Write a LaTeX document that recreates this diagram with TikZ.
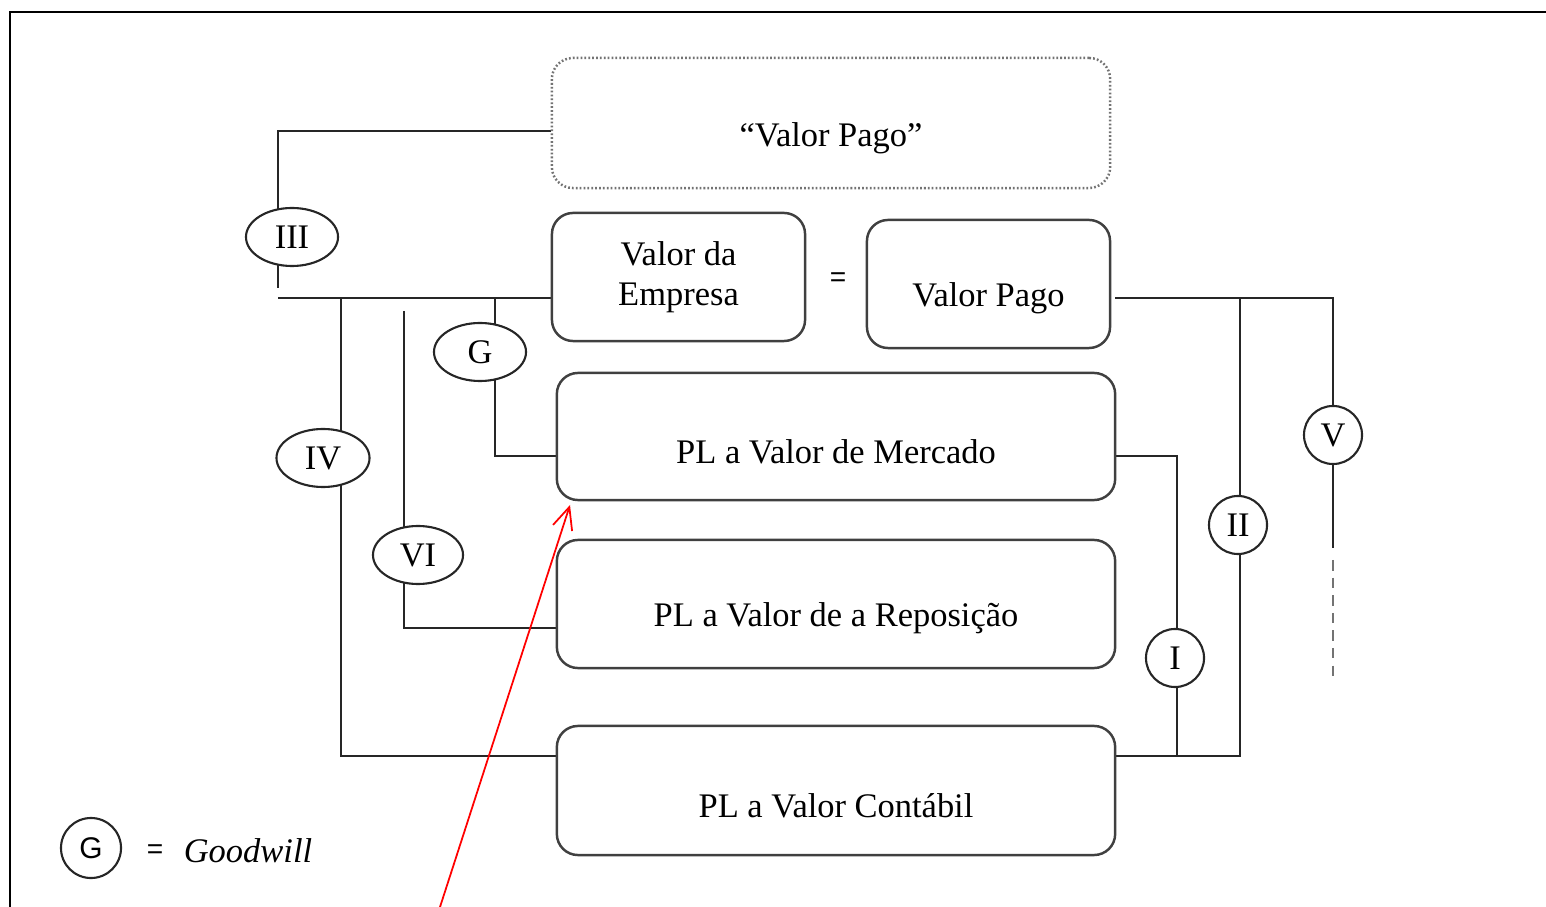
\documentclass[tikz,border=0pt]{standalone}
\usepackage{fontspec}
\setmainfont{Liberation Serif}
\newfontfamily\legendfont{Liberation Sans}
\usetikzlibrary{shapes.geometric, arrows.meta, positioning, calc, backgrounds}

\begin{document}
\begin{tikzpicture}[
  x=0.01cm, y=-0.01cm,
  font=\fontsize{9.8}{11.5}\selectfont,
  box/.style={
    rectangle,
    draw=black!75,
    fill=white,
    line width=0.7pt,
    rounded corners=6pt,
    minimum width=5.58cm,
    minimum height=1.28cm,
    inner sep=0pt
  },
  dotbox/.style={
    box,
    draw=black!55,
    dash pattern=on 0.5pt off 0.6pt,
    line width=0.7pt,
    minimum height=1.30cm
  },
  oval/.style={
    ellipse,
    draw=black!85,
    fill=white,
    line width=0.6pt,
    minimum width=0.92cm,
    minimum height=0.58cm,
    inner sep=0pt
  },
  ring/.style={
    circle,
    draw=black!85,
    fill=white,
    line width=0.6pt,
    minimum size=0.58cm,
    inner sep=0pt
  },
  link/.style={
    draw=black!85,
    line width=0.65pt
  },
  note/.style={
    -{Straight Barb[length=2.2mm, width=2mm]},
    draw=red,
    line width=0.5pt
  }
]
\useasboundingbox (0,0) rectangle (1546,907);

% Frame
\draw[line width=0.8pt] (10,907) -- (10,12) -- (1546,12);

% Boxes
\node[dotbox] (pago) at (831,123) {};
\node[box, minimum width=2.53cm, align=center] (emp) at (678.5,277) {Valor da\\Empresa};
\node[box, minimum width=2.43cm] (vpago) at (988.5,284) {};
\node[box, minimum height=1.27cm] (merc) at (836,436.5) {};
\node[box] (repo) at (836,604) {};
\node[box, minimum height=1.29cm] (cont) at (836,790.5) {};

% Box texts
\node (pago-t)  at ($(pago)+(0,15)$)  {“Valor Pago”};
\node (vpago-t) at ($(vpago)+(0,14)$) {Valor Pago};
\node (merc-t)  at ($(merc)+(0,15)$)  {PL a Valor de Mercado};
\node (repo-t)  at ($(repo)+(0,14)$)  {PL a Valor de a Reposição};
\node (cont-t)  at ($(cont)+(0,15)$)  {PL a Valor Contábil};
\node[font=\legendfont\fontsize{8}{10}\selectfont] (eq) at (838,280) {=};

% Markers
\node[oval] (iii) at (292,237) {III};
\node[oval] (g) at (480,352) {G};
\node[oval, minimum width=0.93cm] (iv) at (323,458) {IV};
\node[oval, minimum width=0.90cm] (vi) at (418,555) {VI};
\node[ring] (v) at (1333,435) {V};
\node[ring] (ii) at (1238,525) {II};
\node[ring] (i) at (1175,658) {I};

% Junctions
\coordinate (top3) at (278,131);
\coordinate (end3) at (278,288);
\coordinate (lj) at (278,298);
\coordinate (j4) at (341,298);
\coordinate (b4) at (341,756);
\coordinate (j6) at (404,311);
\coordinate (b6) at (404,628);
\coordinate (jg) at (495,298);
\coordinate (bg) at (495,456);
\coordinate (rj) at (1115,298);
\coordinate (j5) at (1333,298);
\coordinate (b5) at (1333,548);
\coordinate (d5a) at (1333,560);
\coordinate (d5b) at (1333,680);
\coordinate (j2) at (1240,298);
\coordinate (b2) at (1240,756);
\coordinate (j1) at (1177,456);
\coordinate (b1) at (1177,756);

% Connectors (behind the markers)
\begin{scope}[on background layer]
\draw[link] (pago.west |- top3) -- (top3) -- (end3);
\draw[link] (lj) -- (emp.west |- lj);
\draw[link] (j4) -- (b4) -- (cont.west |- b4);
\draw[link] (j6) -- (b6) -- (repo.west |- b6);
\draw[link] (jg) -- (bg) -- (merc.west |- bg);
\draw[link] (rj) -- (j5) -- (b5);
\draw[link, draw=black!55, dash pattern=on 3pt off 2pt] (d5a) -- (d5b);
\draw[link] (j2) -- (b2) -- (cont.east |- b2);
\draw[link] (merc.east |- j1) -- (j1) -- (b1);
\end{scope}

% Legend
\node[ring, minimum size=0.60cm, font=\legendfont\fontsize{8.5}{10}\selectfont] (lg) at (91,848) {G};
\node[font=\legendfont\fontsize{8}{10}\selectfont] (leq) at (155,852) {=};
\node[font=\fontsize{9.8}{11.5}\selectfont\itshape] (lgw) at (248,851) {Goodwill};

% Red pointer
\coordinate (tail) at (440,907);
\coordinate (tip) at (570,505);
\draw[note] (tail) -- (tip);

\end{tikzpicture}
\end{document}
